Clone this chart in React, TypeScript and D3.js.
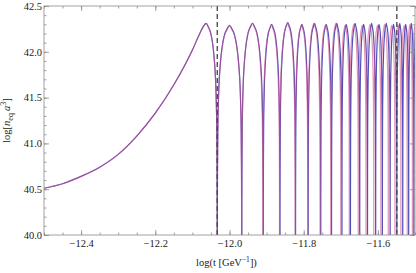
import * as d3 from "d3";
import { useRef, useEffect } from "react";

// smooth rise before the oscillations start (log t, log n a^3)
const riseT = [-12.5, -12.45, -12.4, -12.35, -12.3, -12.25, -12.2, -12.15, -12.1, -12.08, -12.07, -12.063];
const riseV = [40.51, 40.56, 40.64, 40.74, 40.88, 41.08, 41.33, 41.64, 42.02, 42.2, 42.28, 42.31];

// zero crossings for each curve
const redZeros = [-12.033, -11.967, -11.91, -11.865, -11.823, -11.789, -11.756, -11.727, -11.7, -11.677,
  -11.653, -11.632, -11.611, -11.592, -11.572, -11.554, -11.538, -11.521, -11.507, -11.493];
const blueZeros = [-12.033, -11.967, -11.909, -11.864, -11.822, -11.788, -11.754, -11.725, -11.697, -11.674,
  -11.649, -11.628, -11.606, -11.588, -11.567, -11.549, -11.533, -11.517, -11.503, -11.489];

// lobe tops
const redPeaks = [42.28, 42.31, 42.29, 42.31, 42.29, 42.31, 42.29, 42.31, 42.29, 42.3,
  42.29, 42.3, 42.29, 42.3, 42.29, 42.3, 42.29, 42.3, 42.29];
const bluePeaks = [42.29, 42.31, 42.3, 42.32, 42.3, 42.31, 42.3, 42.31, 42.3, 42.31,
  42.3, 42.31, 42.3, 42.31, 42.3, 42.31, 42.3, 42.31, 42.3];

// shape of one lobe: position across the lobe and drop below its top
const lobeU = [0, 0.004, 0.012, 0.025, 0.045, 0.075, 0.11, 0.16, 0.22, 0.3, 0.4, 0.5,
  0.6, 0.7, 0.78, 0.84, 0.89, 0.925, 0.955, 0.975, 0.988, 0.996, 1];
const lobeDrop = [-4, -2.0, -1.5, -1.1, -0.85, -0.62, -0.47, -0.32, -0.2, -0.1, -0.04, 0,
  -0.04, -0.1, -0.2, -0.32, -0.47, -0.62, -0.85, -1.1, -1.5, -2.0, -4];

// dashed markers
const markers = [-12.033, -11.549];

const xMajor = [-12.4, -12.2, -12.0, -11.8, -11.6];
const xMinor = d3.range(-12.5, -11.499, 0.05);
const yMajor = [40.0, 40.5, 41.0, 41.5, 42.0, 42.5];
const yMinor = d3.range(40.0, 42.501, 0.1);

const width = 416;
const height = 273;
const marginLeft = 44;
const marginRight = 1;
const marginTop = 6;
const marginBottom = 38;

function buildSeries(zeros: number[], peaks: number[]): [number, number][] {
  const pts: [number, number][] = riseT.map((t, i) => [t, riseV[i]]);
  const peakT = riseT[riseT.length - 1];
  const peakV = riseV[riseV.length - 1];
  // falling side of the first lobe
  lobeU.forEach((u, j) => {
    if (u > 0.5) pts.push([peakT + (u - 0.5) * 2 * (zeros[0] - peakT), peakV + lobeDrop[j]]);
  });
  for (let k = 0; k + 1 < zeros.length; k++) {
    const a = zeros[k], b = zeros[k + 1];
    // skip u = 0, it is the previous lobe's last point
    lobeU.forEach((u, j) => { if (u > 0) pts.push([a + u * (b - a), peaks[k] + lobeDrop[j]]); });
  }
  return pts;
}

export default function App() {
  const gBottom = useRef<SVGGElement | null>(null);
  const gBottomMinor = useRef<SVGGElement | null>(null);
  const gTop = useRef<SVGGElement | null>(null);
  const gTopMinor = useRef<SVGGElement | null>(null);
  const gLeft = useRef<SVGGElement | null>(null);
  const gLeftMinor = useRef<SVGGElement | null>(null);
  const gRight = useRef<SVGGElement | null>(null);
  const gRightMinor = useRef<SVGGElement | null>(null);

  const x = d3.scaleLinear([-12.5, -11.5], [marginLeft, width - marginRight]);
  const y = d3.scaleLinear([40, 42.5], [height - marginBottom, marginTop]);

  const line = d3.line<[number, number]>()
    .x((d) => x(d[0]))
    .y((d) => y(d[1]))
    .curve(d3.curveMonotoneX);

  const fmt = (d: d3.NumberValue) => d3.format(".1f")(d as number).replace("-", "\u2212");
  const none = () => "";

  useEffect(() => {
    const style = (g: SVGGElement | null, axis: d3.Axis<d3.NumberValue>) => {
      if (!g) return;
      const sel = d3.select(g).call(axis);
      sel.select(".domain").remove();
      sel.selectAll("line").attr("stroke", "#8a8a8a").attr("stroke-width", 0.8);
      sel.selectAll("text")
        .attr("fill", "#222")
        .style("font-family", "'Liberation Serif', 'DejaVu Serif', serif")
        .style("font-size", "10.5px");
    };
    style(gBottom.current, d3.axisBottom(x).tickValues(xMajor).tickSize(-5).tickPadding(5).tickFormat(fmt));
    style(gBottomMinor.current, d3.axisBottom(x).tickValues(xMinor).tickSize(-2.5).tickFormat(none));
    style(gTop.current, d3.axisTop(x).tickValues(xMajor).tickSize(-5).tickFormat(none));
    style(gTopMinor.current, d3.axisTop(x).tickValues(xMinor).tickSize(-2.5).tickFormat(none));
    style(gLeft.current, d3.axisLeft(y).tickValues(yMajor).tickSize(-5).tickPadding(2).tickFormat(fmt));
    style(gLeftMinor.current, d3.axisLeft(y).tickValues(yMinor).tickSize(-2.5).tickFormat(none));
    style(gRight.current, d3.axisRight(y).tickValues(yMajor).tickSize(-5).tickFormat(none));
    style(gRightMinor.current, d3.axisRight(y).tickValues(yMinor).tickSize(-2.5).tickFormat(none));
  }, [x, y]);

  const blue = buildSeries(blueZeros, bluePeaks);
  const red = buildSeries(redZeros, redPeaks);

  const x0 = marginLeft, x1 = width - marginRight;
  const y0 = marginTop, y1 = height - marginBottom;
  const font = "'Liberation Serif', 'DejaVu Serif', serif";

  return (
    <svg width={width} height={height} style={{ position: "absolute", left: 0, top: 0, background: "#fff" }}>
      <defs>
        <clipPath id="plot">
          <rect x={x0} y={y0} width={x1 - x0} height={y1 - y0} />
        </clipPath>
      </defs>

      <g clipPath="url(#plot)">
        <path d={line(blue) ?? undefined} fill="none" stroke="rgb(80,80,185)" strokeWidth={1.2} />
        <path d={line(red) ?? undefined} fill="none" stroke="rgb(205,80,140)" strokeWidth={1.2} strokeOpacity={0.6} />
        {markers.map((m) => (
          <line key={m} x1={x(m)} x2={x(m)} y1={y0} y2={y1}
            stroke="#444" strokeWidth={1.3} strokeDasharray="5,3" />
        ))}
      </g>

      {/* frame */}
      <rect x={x0} y={y0} width={x1 - x0} height={y1 - y0} fill="none" stroke="#8a8a8a" strokeWidth={0.8} />

      <g ref={gBottom} transform={`translate(0,${y1})`} />
      <g ref={gBottomMinor} transform={`translate(0,${y1})`} />
      <g ref={gTop} transform={`translate(0,${y0})`} />
      <g ref={gTopMinor} transform={`translate(0,${y0})`} />
      <g ref={gLeft} transform={`translate(${x0},0)`} />
      <g ref={gLeftMinor} transform={`translate(${x0},0)`} />
      <g ref={gRight} transform={`translate(${x1},0)`} />
      <g ref={gRightMinor} transform={`translate(${x1},0)`} />

      {/* axis titles */}
      <text x={(x0 + x1) / 2 - 3} y={266} textAnchor="middle" fontFamily={font} fontSize={10.5} fill="#222">
        log(t [GeV<tspan dy={-4} fontSize={7.5}>{"\u22121"}</tspan><tspan dy={4}>])</tspan>
      </text>
      <text transform={`translate(10,${(y0 + y1) / 2}) rotate(-90)`} textAnchor="middle"
        fontFamily={font} fontSize={10.5} fill="#222">
        log[<tspan fontStyle="italic">n</tspan><tspan dy={2.5} fontSize={8}>eq</tspan><tspan dy={-2.5}>{"\u2009"}</tspan><tspan fontStyle="italic">a</tspan><tspan dy={-4} fontSize={8}>3</tspan><tspan dy={4}>]</tspan>
      </text>
    </svg>
  );
}
